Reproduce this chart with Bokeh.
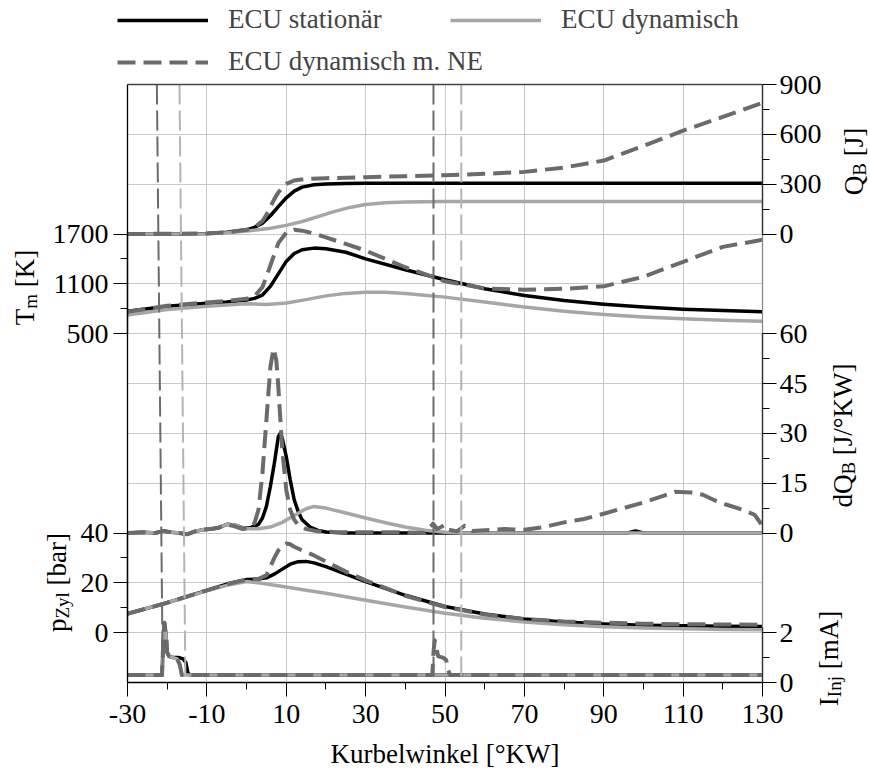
from math import pi
from bokeh.plotting import figure
from bokeh.models import (Range1d, LinearAxis, FixedTicker, Label, Legend,
                          LegendItem, Grid)
from bokeh.embed import file_html
from bokeh.resources import INLINE

# ---------------- data ----------------
# Q_B [J]
x_q_stat = [-30, -20, -10, -5, 0, 2, 4, 6, 8, 10, 12, 14, 17, 20, 25, 30, 130]
q_stat = [0, 0, 3, 10, 25, 40, 65, 110, 165, 218, 258, 282, 296, 301, 304, 305, 305]
x_q_dyn = [-30, -10, -5, 0, 3, 6, 10, 14, 18, 22, 26, 30, 35, 40, 50, 130]
q_dyn = [0, 2, 8, 18, 26, 35, 52, 75, 105, 135, 160, 178, 188, 193, 195, 195]
x_q_ne = [-30, -10, -5, 0, 2, 4, 5, 6, 7, 8, 9, 10, 12, 15, 20, 30, 40, 50, 60,
          70, 80, 90, 100, 110, 120, 130]
q_ne = [0, 3, 10, 25, 40, 78, 115, 165, 210, 250, 280, 302, 322, 332, 336, 342,
        348, 354, 362, 374, 400, 442, 530, 622, 705, 790]

# T_m [K]
x_t_stat = [-30, -20, -10, -5, 0, 2, 4, 6, 8, 10, 12, 14, 17, 20, 25, 30, 40, 50,
            60, 70, 80, 90, 100, 110, 120, 130]
t_stat = [770, 830, 865, 880, 905, 925, 965, 1070, 1220, 1370, 1465, 1510, 1530,
          1522, 1480, 1400, 1270, 1150, 1040, 960, 900, 855, 820, 795, 778, 765]
x_t_dyn = [-30, -20, -10, 0, 5, 10, 15, 20, 25, 30, 35, 40, 50, 60, 70, 80, 90,
           100, 110, 120, 130]
t_dyn = [725, 790, 830, 860, 852, 870, 910, 955, 985, 1000, 998, 985, 940, 880,
         820, 770, 730, 700, 680, 662, 650]
x_t_ne = [-30, -20, -10, -5, 0, 2, 4, 6, 8, 10, 12, 14, 17, 20, 25, 30, 40, 50, 60,
          70, 80, 90, 100, 110, 120, 130]
t_ne = [765, 835, 875, 895, 920, 950, 1060, 1320, 1590, 1715, 1750, 1740, 1705,
        1660, 1580, 1500, 1300, 1130, 1045, 1030, 1040, 1070, 1185, 1365, 1545, 1630]

# dQ_B [J/°KW]
x_d_stat = [-30, -26, -23, -21, -19, -17, -15, -13, -11, -9, -7, -5, -3, -1, 1, 3,
            4, 5, 6, 7, 8, 8.5, 9, 10, 11, 12, 13, 14, 16, 18, 20, 25, 30, 96, 98,
            100, 102, 130]
d_stat = [0, 0.2, 0, 0.6, 0.2, 0, -0.4, 0.5, 1, 1.2, 1.6, 2.6, 2.4, 1.6, 1.6, 2.6,
          4.5, 8, 14, 21, 29, 30, 28.5, 23, 16, 10, 6.5, 4, 1.8, 0.8, 0.3, 0, 0, 0,
          0.6, 0, 0, 0]
x_d_dyn = [-30, -26, -23, -21, -19, -17, -15, -13, -11, -9, -7, -5, -3, -1, 1, 3,
           6, 9, 12, 15, 17, 20, 25, 30, 35, 40, 45, 50, 55, 130]
d_dyn = [0, 0.2, 0, 0.6, 0.2, 0, -0.4, 0.5, 1, 1.2, 1.6, 2.6, 2.4, 1.6, 1.3, 1.3,
         1.8, 3.2, 5.3, 7.3, 8, 7.5, 6, 4.5, 3.1, 1.8, 0.8, 0.2, 0, 0]
x_d_ne = [-30, -26, -23, -21, -19, -17, -15, -13, -11, -9, -7, -5, -3, -1, 1, 2, 3,
          4, 5, 6, 6.8, 7.5, 8, 9, 10, 11, 12, 13, 15, 18, 22, 30, 40, 45, 47, 48,
          49, 50, 51, 53, 55, 57, 60, 65, 70, 75, 80, 85, 90, 95, 100, 105, 108,
          112, 115, 118, 121, 125, 128, 129.5, 130]
d_ne = [0, 0.2, 0, 0.6, 0.2, 0, -0.4, 0.5, 1, 1.2, 1.6, 2.6, 2.0, 1.2, 1.5, 3, 7,
        18, 34, 50, 55.5, 52, 44, 25, 13, 7, 4, 2.5, 1.2, 0.5, 0.3, 0.2, 0.2, 0,
        2.8, 1.2, 1.8, 2.5, 1.0, 0.5, 2.2, 0.6, 0.8, 1.2, 1.0, 1.8, 3.2, 4.2, 5.8,
        7.5, 9.2, 11.2, 12.4, 12.2, 11.5, 9.8, 8.5, 7, 5.5, 3, 0.3]

# p_Zyl [bar]
x_p_stat = [-30, -20, -10, -5, 0, 3, 5, 7, 9, 11, 13, 15, 17, 20, 25, 30, 40, 50,
            60, 70, 80, 90, 100, 110, 120, 130]
p_stat = [7.6, 12, 17, 19.5, 21.3, 21.5, 22, 23.5, 25.5, 27.5, 28.5, 28.6, 28,
          26.5, 23.5, 20.5, 15, 10.5, 7.5, 5.5, 4.3, 3.5, 3, 2.8, 2.6, 2.5]
x_p_dyn = [-30, -20, -10, -5, 0, 3, 5, 10, 15, 20, 30, 40, 50, 60, 70, 80, 90, 100,
           110, 120, 130]
p_dyn = [7.6, 12, 16.8, 19, 20.5, 20, 19.5, 18.3, 17, 15.8, 13, 10.3, 7.8, 5.8,
         4.3, 3.2, 2.4, 1.9, 1.6, 1.3, 1.2]
x_p_ne = [-30, -20, -10, -5, 0, 3, 5, 7, 8, 9, 10, 11, 12, 14, 17, 20, 25, 30, 40,
          50, 60, 70, 80, 90, 100, 110, 120, 130]
p_ne = [7.6, 12, 17, 19.5, 21.3, 21.6, 23, 30, 33, 35, 35.8, 35.5, 34.5, 33, 31,
        28.5, 24.5, 21, 14.8, 10.3, 7.3, 5.5, 4.5, 4, 3.6, 3.4, 3.3, 3.2]

# I_Inj [mA]
x_i_stat = [-30, -21.3, -21.0, -20.7, -20.3, -20.0, -19.5, -18.5, -17, -16,
            -15.3, -14.8, -14.3, 130]
i_stat = [0.3, 0.3, 1.6, 2.4, 1.9, 1.2, 1.05, 1.0, 1.0, 0.95, 0.8, 0.4, 0.3, 0.3]
x_i_dyn = [-30, -21.3, -21.0, -20.7, -20.3, -20.0, -19.5, -18.5, -17.5, -16.8,
           -16.3, 130]
i_dyn = [0.3, 0.3, 1.6, 2.4, 1.9, 1.2, 1.05, 1.0, 0.95, 0.7, 0.3, 0.3]
x_i_ne = [-30, -21.3, -21.0, -20.7, -20.3, -20.0, -19.5, -18.5, -17.5, -16.8,
          -16.3, 46.8, 47.1, 47.4, 47.8, 48.3, 49.5, 50.3, 50.8, 51.3, 130]
i_ne = [0.3, 0.3, 1.6, 2.4, 1.9, 1.2, 1.05, 1.0, 0.95, 0.7, 0.3, 0.3, 1.2, 1.7,
        1.4, 1.05, 1.0, 0.9, 0.5, 0.3, 0.3]

# injection markers [°KW] (top / bottom of each marker line)
soi_top = [-22.6, -16.9, 47.1, 54.1]
soi_bottom = [-21.1, -15.4, 47.1, 54.1]

series_labels = ["ECU stationär", "ECU dynamisch", "ECU dynamisch m. NE"]

x_major = [-30, -10, 10, 30, 50, 70, 90, 110, 130]
x_minor = [-20, 0, 20, 40, 60, 80, 100, 120]
tm_ticks = [500, 1100, 1700]
tm_minor = [800, 1400]
p_ticks = [0, 20, 40]
p_minor = [10, 30]
qb_ticks = [0, 300, 600, 900]
qb_minor = [150, 450, 750]
dq_ticks = [0, 15, 30, 45, 60]
dq_minor = [7.5, 22.5, 37.5, 52.5]
ii_ticks = [0, 2]
ii_minor = [1]

# ---------------- styling / layout ----------------
W, H = 870, 775
BOX_L, BOX_R, BOX_T, BOX_B = 127, 762, 84, 682   # chart box on the canvas (px)
X0, X1 = -30, 130
NU = 12                                           # stacked layout units
FONT = "Liberation Serif"
FS_TICK = "28px"
FS_TEXT = 27
C_STAT = "#000000"
C_DYN = "#a6a6a6"
C_NE = "#6b6b6b"
DASH = "18 8"

pxd = (BOX_R - BOX_L) / (X1 - X0)
pxu = (BOX_B - BOX_T) / NU
xr = Range1d(X0 - BOX_L / pxd, X1 + (W - BOX_R) / pxd)
u_lo, u_hi = -(H - BOX_B) / pxu, BOX_B / pxu
yr = Range1d(u_lo, u_hi)

ranges = {  # (value at unit 0, value per unit)
    "Q": (-2700.0, 300.0),
    "T": (-3700.0, 600.0),
    "D": (-45.0, 15.0),
    "P": (-20.0, 20.0),
    "I": (0.0, 2.0),
}

p = figure(width=W, height=H, min_border=0, x_range=xr, y_range=yr,
           x_axis_location=None, y_axis_location=None,
           output_backend="svg", toolbar_location=None)
p.extra_y_ranges = {k: Range1d(s + u_lo * d, s + u_hi * d)
                    for k, (s, d) in ranges.items()}
p.outline_line_color = None
p.grid.visible = False


def make_axis(ticks, minors, color="black", **kw):
    ax = LinearAxis(ticker=FixedTicker(ticks=ticks, minor_ticks=minors), **kw)
    ax.axis_line_color = color
    ax.axis_line_width = 1.3
    ax.major_tick_line_color = "black"
    ax.minor_tick_line_color = "black"
    ax.major_tick_out = 14
    ax.major_tick_in = 0
    ax.minor_tick_out = 7
    ax.minor_tick_in = 0
    ax.major_label_text_font = FONT
    ax.major_label_text_font_size = FS_TICK
    ax.major_label_text_color = "black"
    return ax


# frame lines
p.add_layout(make_axis([], [], color="black", fixed_location=X0, bounds=(0, NU)), "left")
p.add_layout(make_axis([], [], color="#888888", fixed_location=X1, bounds=(0, NU)), "right")
p.add_layout(make_axis([], [], color="#444444", fixed_location=NU, bounds=(X0, X1)), "above")

# left value axes
for key, tk, mn, bnd in [("T", tm_ticks, tm_minor, (500, 1700)),
                         ("P", p_ticks, p_minor, (0, 40))]:
    ax = make_axis(tk, mn, y_range_name=key, fixed_location=X0, bounds=bnd)
    ax.major_label_standoff = 5
    p.add_layout(ax, "left")

# right value axes
for key, tk, mn, bnd in [("Q", qb_ticks, qb_minor, (0, 900)),
                         ("D", dq_ticks, dq_minor, (0, 60)),
                         ("I", ii_ticks, ii_minor, (0, 2.2))]:
    ax = make_axis(tk, mn, color="#333333", y_range_name=key, fixed_location=X1,
                   bounds=bnd)
    ax.major_label_standoff = 3
    p.add_layout(ax, "right")

# x axis
xa = make_axis(x_major, x_minor, fixed_location=0, bounds=(X0, X1),
               major_label_overrides={v: f"{v}" for v in x_major})
xa.major_label_standoff = 8
xa.axis_label = "Kurbelwinkel [°KW]"
xa.axis_label_text_font = FONT
xa.axis_label_text_font_size = f"{FS_TEXT}px"
xa.axis_label_text_font_style = "normal"
xa.axis_label_text_color = "black"
xa.axis_label_standoff = 13
p.add_layout(xa, "below")

# grid
GC = "#c8c8c8"
x_grid = x_major[1:-1]
y_grid = list(range(1, NU))
if "cross_bounds" in Grid.properties():
    p.add_layout(Grid(dimension=0, ticker=FixedTicker(ticks=x_grid),
                      bounds=(x_grid[0], x_grid[-1]), cross_bounds=(0, NU),
                      grid_line_color=GC, grid_line_width=1))
    p.add_layout(Grid(dimension=1, ticker=FixedTicker(ticks=y_grid),
                      bounds=(y_grid[0], y_grid[-1]), cross_bounds=(X0, X1),
                      grid_line_color=GC, grid_line_width=1))
else:
    p.segment(x0=x_grid, x1=x_grid, y0=[0] * len(x_grid), y1=[NU] * len(x_grid),
              line_color=GC, line_width=1)
    p.segment(x0=[X0] * len(y_grid), x1=[X1] * len(y_grid), y0=y_grid, y1=y_grid,
              line_color=GC, line_width=1)

# ---------------- curves ----------------
styles = {
    "stat": dict(line_color=C_STAT, line_width=3.5),
    "dyn": dict(line_color=C_DYN, line_width=3.5),
    "ne": dict(line_color=C_NE, line_width=4, line_dash=DASH),
}
data = {
    "stat": [(x_q_stat, q_stat, "Q"), (x_t_stat, t_stat, "T"), (x_d_stat, d_stat, "D"),
             (x_p_stat, p_stat, "P"), (x_i_stat, i_stat, "I")],
    "dyn": [(x_q_dyn, q_dyn, "Q"), (x_t_dyn, t_dyn, "T"), (x_d_dyn, d_dyn, "D"),
            (x_p_dyn, p_dyn, "P"), (x_i_dyn, i_dyn, "I")],
    "ne": [(x_q_ne, q_ne, "Q"), (x_t_ne, t_ne, "T"), (x_d_ne, d_ne, "D"),
           (x_p_ne, p_ne, "P"), (x_i_ne, i_ne, "I")],
}
first = {}
for key in ["stat", "dyn", "ne"]:
    for xs, ys, rng in data[key]:
        r = p.line(xs, ys, y_range_name=rng, line_join="round", **styles[key])
        first.setdefault(key, r)

# injection marker lines
p.segment(x0=soi_top, y0=[NU] * len(soi_top), x1=soi_bottom,
          y1=[0] * len(soi_bottom),
          line_color=[C_NE, "#b4b4b4", C_NE, "#b4b4b4"], line_width=2,
          line_dash="20 6")

# ---------------- legend ----------------
common = dict(glyph_width=91, glyph_height=30, label_height=30, label_width=200,
              label_standoff=20, spacing=22, padding=0, margin=0,
              border_line_color=None, background_fill_alpha=0,
              label_text_font=FONT, label_text_font_size=f"{FS_TEXT}px",
              orientation="horizontal")
leg1 = Legend(items=[LegendItem(label=series_labels[0], renderers=[first["stat"]]),
                     LegendItem(label=series_labels[1], renderers=[first["dyn"]])],
              location=(117, H - 35), **common)
leg2 = Legend(items=[LegendItem(label=series_labels[2], renderers=[first["ne"]])],
              location=(117, H - 77), **common)
p.add_layout(leg1)
p.add_layout(leg2)

# ---------------- vertical axis titles (with subscripts) ----------------
CW = {"T": .611, "m": .778, " ": .25, "\u00a0": .25, "[": .333, "K": .722,
      "]": .333, "p": .5, "Z": .611, "y": .5, "l": .278, "b": .5, "a": .444,
      "r": .333, "Q": .722, "B": .667, "J": .389, "d": .5, "/": .278, "°": .4,
      "W": .944, "I": .333, "n": .5, "j": .278, "A": .722}
SUB = 19


def vtitle(parts, cx, cy):
    sizes = [(t, SUB if sub else FS_TEXT, sub) for t, sub in parts]
    widths = [sum(CW.get(c, .5) for c in t) * s for t, s, _ in sizes]
    y = (H - cy) - sum(widths) / 2
    for (t, s, sub), w in zip(sizes, widths):
        p.add_layout(Label(x=cx + (6 if sub else 0), y=y, text=t,
                           x_units="screen", y_units="screen", angle=pi / 2,
                           text_align="left", text_baseline="middle",
                           text_font=FONT, text_font_size=f"{s}px",
                           text_color="black"))
        y += w


NB = "\u00a0"
vtitle([("T", False), ("m", True), (NB + "[K]", False)], 24, 287)
vtitle([("p", False), ("Zyl", True), (NB + "[bar]", False)], 56, 582)
vtitle([("Q", False), ("B", True), (NB + "[J]", False)], 853, 161)
vtitle([("dQ", False), ("B", True), (NB + "[J/°KW]", False)], 842, 435)
vtitle([("I", False), ("Inj", True), (NB + "[mA]", False)], 828, 658)

open("out.html", "w").write(file_html(p, INLINE))
